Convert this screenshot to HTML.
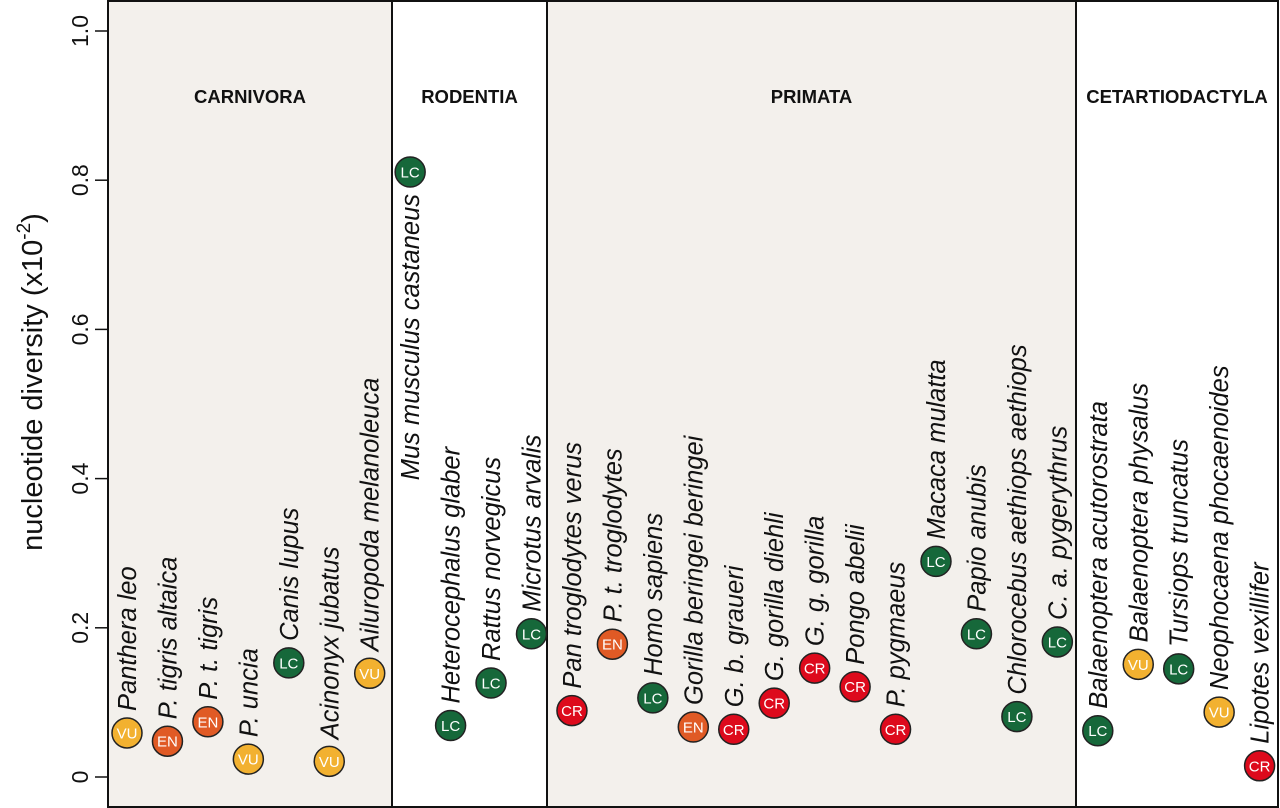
<!DOCTYPE html>
<html><head><meta charset="utf-8"><style>
html,body{margin:0;padding:0;background:#fff}
svg{display:block}
text{font-family:"Liberation Sans",sans-serif}
</style></head><body>
<svg id="chart" width="1280" height="808" xmlns="http://www.w3.org/2000/svg">
<g id="panels"></g>
<g id="axis"></g>
<g id="pts"></g>
<text transform="translate(42,382) rotate(-90)" text-anchor="middle" font-size="29" fill="#111">nucleotide diversity (x10<tspan dy="-12" font-size="19">-2</tspan><tspan dy="12">)</tspan></text>
</svg>
<script>
const species = ["Panthera leo","P. tigris altaica","P. t. tigris","P. uncia","Canis lupus","Acinonyx jubatus","Ailuropoda melanoleuca","Mus musculus castaneus","Heterocephalus glaber","Rattus norvegicus","Microtus arvalis","Pan troglodytes verus","P. t. troglodytes","Homo sapiens","Gorilla beringei beringei","G. b. graueri","G. gorilla diehli","G. g. gorilla","Pongo abelii","P. pygmaeus","Macaca mulatta","Papio anubis","Chlorocebus aethiops aethiops","C. a. pygerythrus","Balaenoptera acutorostrata","Balaenoptera physalus","Tursiops truncatus","Neophocaena phocaenoides","Lipotes vexillifer"];
const diversity = [0.059,0.048,0.074,0.024,0.153,0.021,0.139,0.811,0.069,0.126,0.192,0.089,0.178,0.106,0.067,0.064,0.099,0.146,0.121,0.064,0.289,0.192,0.081,0.181,0.062,0.151,0.145,0.087,0.015];
const status = ["VU","EN","EN","VU","LC","VU","VU","LC","LC","LC","LC","CR","EN","LC","EN","CR","CR","CR","CR","CR","LC","LC","LC","LC","LC","VU","LC","VU","CR"];
const orders = ["CARNIVORA","RODENTIA","PRIMATA","CETARTIODACTYLA"];
const orderCounts = [7,4,13,5];
const yTicks = [0,0.2,0.4,0.6,0.8,1.0];
const yTickLabels = ["0","0.2","0.4","0.6","0.8","1.0"];

const NS="http://www.w3.org/2000/svg";
const y = v => 777 - v*746;
const x = i => 127 + i*40.45;
const colors={VU:"#f2b130",EN:"#e05a25",CR:"#dd0a1c",LC:"#16683a"};
function mk(tag,attrs,parent){const e=document.createElementNS(NS,tag);for(const k in attrs)e.setAttribute(k,attrs[k]);parent.appendChild(e);return e;}

const panels=document.getElementById('panels');
const bounds=[108,392,547,1076,1278];
const shaded=[true,false,true,false];
orders.forEach((o,k)=>{
  const r=mk('rect',{x:bounds[k],y:1,width:bounds[k+1]-bounds[k],height:806,fill:shaded[k]?"#f3f0ec":"#fff",stroke:"#111","stroke-width":2},panels);
  
  
  const t=mk('text',{x:(bounds[k]+bounds[k+1])/2,y:103,"text-anchor":"middle","font-size":18.5,"font-weight":"bold",fill:"#111"},panels);
  t.textContent=o;
  
  
});

const ax=document.getElementById('axis');
yTicks.forEach((v,i)=>{
  const l=mk('line',{x1:95,x2:108,y1:y(v),y2:y(v),stroke:"#111","stroke-width":1.5},ax);
  
  
  const t=mk('text',{transform:`translate(88,${y(v)}) rotate(-90)`,"text-anchor":"middle","font-size":23,fill:"#111"},ax);
  t.textContent=yTickLabels[i];
  
  
});

const pts=document.getElementById('pts');
species.forEach((s,i)=>{
  const cx=x(i), cy=y(diversity[i]);
  const g=mk('g',{},pts);
  
  
  mk('circle',{cx:cx,cy:cy,r:15,fill:colors[status[i]],stroke:"#222","stroke-width":1.5},g);
  const st=mk('text',{x:cx,y:cy+5.5,"text-anchor":"middle","font-size":15,fill:"#fff"},g);
  st.textContent=status[i];
  
  
  const below = cy < 250;
  const ty = below ? cy+22 : cy-22;
  const lt=mk('text',{transform:`translate(${cx+9},${ty}) rotate(-90)`,"text-anchor":below?"end":"start","font-size":25.5,"font-style":"italic",fill:"#111"},g);
  lt.textContent=s;
  
  
});
</script>
</body></html>
